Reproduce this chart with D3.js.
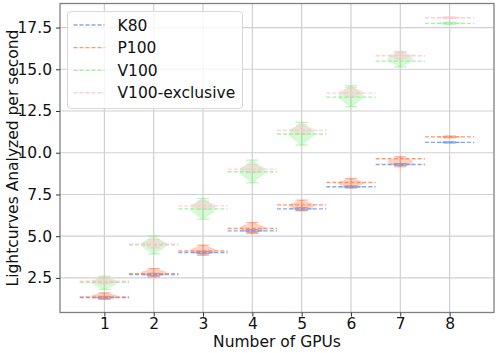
<!DOCTYPE html>
<meta charset="utf-8">

<!-- Load d3.js -->
<script src="https://d3js.org/d3.v7.min.js"></script>

<style>
body { margin: 0; background: white; }
text { font-family: "DejaVu Sans", sans-serif; fill: #111; }
</style>

<div id="my_dataviz"></div>

<script>

// values
var gpus = [1, 2, 3, 4, 5, 6, 7, 8];
var seriesNames = ["K80", "P100", "V100", "V100-exclusive"];

// dashed lines (average throughput)
var k80Mean  = [1.32, 2.70, 4.02, 5.32, 6.64, 7.96, 9.30, 10.62];
var p100Mean = [1.36, 2.76, 4.12, 5.46, 6.88, 8.22, 9.64, 10.95];
var v100Mean = [2.24, 4.48, 6.64, 8.86, 11.12, 13.33, 15.49, 17.75];
var exclMean = [2.30, 4.52, 6.82, 9.02, 11.34, 13.57, 15.81, 18.09];

// violin extents (min / max of each run)
var k80Lo  = [1.24, 2.62, 3.94, 5.24, 6.56, 7.90, 9.24, 10.58];
var k80Hi  = [1.40, 2.78, 4.10, 5.40, 6.72, 8.02, 9.36, 10.66];
var p100Lo = [1.24, 2.56, 3.86, 5.16, 6.52, 7.90, 9.16, 10.90];
var p100Hi = [1.60, 3.06, 4.46, 5.82, 7.16, 8.46, 9.76, 11.00];
var v100Lo = [1.82, 3.94, 6.02, 8.20, 10.46, 12.75, 15.15, 17.70];
var v100Hi = [2.60, 5.02, 7.26, 9.56, 11.82, 14.01, 16.05, 17.82];
var exclLo = [2.15, 4.30, 6.60, 8.80, 11.10, 13.35, 15.62, 18.04];
var exclHi = [2.50, 4.80, 7.10, 9.30, 11.65, 13.90, 16.02, 18.14];

var yTicks = [2.5, 5.0, 7.5, 10.0, 12.5, 15.0, 17.5];

var colors = ["#6495ed", "#ff7f50", "#90ee90", "#ffc0cb"];

var series = [
  {name: seriesNames[0], mean: k80Mean,  lo: k80Lo,  hi: k80Hi,  color: colors[0]},
  {name: seriesNames[1], mean: p100Mean, lo: p100Lo, hi: p100Hi, color: colors[1]},
  {name: seriesNames[2], mean: v100Mean, lo: v100Lo, hi: v100Hi, color: colors[2]},
  {name: seriesNames[3], mean: exclMean, lo: exclLo, hi: exclHi, color: colors[3]}
];

// dimensions
var W = 498, H = 353;
var margin = {top: 3.5, right: 4, bottom: 40.5, left: 60};

var svg = d3.select("#my_dataviz")
  .append("svg")
    .attr("width", W)
    .attr("height", H);

var x = d3.scaleLinear()
  .domain([0.1, 8.9])
  .range([margin.left, W - margin.right]);

var y = d3.scaleLinear()
  .domain([0.43, 18.94])
  .range([H - margin.bottom, margin.top]);

// grid
var grid = svg.append("g");
grid.selectAll("line.gx")
  .data(gpus)
  .enter().append("line")
    .attr("x1", d => x(d)).attr("x2", d => x(d))
    .attr("y1", margin.top).attr("y2", H - margin.bottom)
    .attr("stroke", "#d0d0d0").attr("stroke-width", 1.2);
grid.selectAll("line.gy")
  .data(yTicks)
  .enter().append("line")
    .attr("y1", d => y(d)).attr("y2", d => y(d))
    .attr("x1", margin.left).attr("x2", W - margin.right)
    .attr("stroke", "#d0d0d0").attr("stroke-width", 1.2);

// violins
var halfW = 0.25;
function violinPath(pos, lo, hi) {
  var mid = (lo + hi) / 2, sd = (hi - lo) / 4;
  var vals = d3.range(0, 41).map(i => lo + (hi - lo) * i / 40);
  var w = v => halfW * Math.exp(-0.5 * Math.pow((v - mid) / sd, 2));
  var right = vals.map(v => [x(pos + w(v)), y(v)]);
  var left = vals.slice().reverse().map(v => [x(pos - w(v)), y(v)]);
  return d3.line().curve(d3.curveBasis)(right.concat(left)) + "Z";
}

series.forEach(function(s) {
  var g = svg.append("g");
  gpus.forEach(function(n, i) {
    g.append("path")
      .attr("d", violinPath(n, s.lo[i], s.hi[i]))
      .attr("fill", s.color)
      .attr("fill-opacity", 0.35)
      .attr("stroke", s.color)
      .attr("stroke-opacity", 0.3)
      .attr("stroke-width", 0.8);
    // extrema bars
    [s.lo[i], s.hi[i]].forEach(function(v) {
      g.append("line")
        .attr("x1", x(n - 0.125)).attr("x2", x(n + 0.125))
        .attr("y1", y(v)).attr("y2", y(v))
        .attr("stroke", s.color).attr("stroke-opacity", 0.6).attr("stroke-width", 1.2);
    });
    g.append("line")
      .attr("x1", x(n)).attr("x2", x(n))
      .attr("y1", y(s.lo[i])).attr("y2", y(s.hi[i]))
      .attr("stroke", s.color).attr("stroke-opacity", 0.6).attr("stroke-width", 1.2);
  });
});

// dashed mean lines
series.forEach(function(s) {
  svg.append("g")
    .selectAll("line")
    .data(gpus)
    .enter().append("line")
      .attr("x1", d => x(d - 0.5))
      .attr("x2", d => x(d + 0.5))
      .attr("y1", (d, i) => y(s.mean[i]))
      .attr("y2", (d, i) => y(s.mean[i]))
      .attr("stroke", s.color)
      .attr("stroke-opacity", 0.8)
      .attr("stroke-width", 1.4)
      .attr("stroke-dasharray", "4,2");
});

// frame
svg.append("rect")
  .attr("x", margin.left).attr("y", margin.top)
  .attr("width", W - margin.right - margin.left)
  .attr("height", H - margin.bottom - margin.top)
  .attr("fill", "none").attr("stroke", "#808080").attr("stroke-width", 1.3);

// x axis
var xAxis = svg.append("g")
  .attr("transform", "translate(0," + (H - margin.bottom) + ")")
  .call(d3.axisBottom(x).tickValues(gpus).tickSize(4).tickPadding(1).tickFormat(d3.format("d")));
xAxis.select(".domain").remove();
xAxis.selectAll("text").style("font-size", "15.5px").attr("fill", "#111");
xAxis.selectAll("line").attr("stroke", "#333");

// y axis
var yAxis = svg.append("g")
  .attr("transform", "translate(" + margin.left + ",0)")
  .call(d3.axisLeft(y).tickValues(yTicks).tickSize(4).tickPadding(4).tickFormat(d3.format(".1f")));
yAxis.select(".domain").remove();
yAxis.selectAll("text").style("font-size", "15.5px").attr("fill", "#111");
yAxis.selectAll("line").attr("stroke", "#333");

// axis titles
svg.append("text")
  .attr("x", (margin.left + W - margin.right) / 2)
  .attr("y", 347)
  .attr("text-anchor", "middle")
  .style("font-size", "15.5px")
  .text("Number of GPUs");

svg.append("text")
  .attr("transform", "translate(18," + ((margin.top + H - margin.bottom) / 2) + ") rotate(-90)")
  .attr("text-anchor", "middle")
  .style("font-size", "15.5px")
  .text("Lightcurves Analyzed per second");

// legend
var legend = svg.append("g").attr("transform", "translate(67.5,11.5)");
legend.append("rect")
  .attr("width", 175).attr("height", 97)
  .attr("rx", 3.5)
  .attr("fill", "white").attr("fill-opacity", 0.8)
  .attr("stroke", "#d8d8d8").attr("stroke-width", 1);

series.forEach(function(s, i) {
  var ly = 13.5 + i * 22.6;
  legend.append("line")
    .attr("x1", 6).attr("x2", 37)
    .attr("y1", ly).attr("y2", ly)
    .attr("stroke", s.color)
    .attr("stroke-opacity", 0.8)
    .attr("stroke-width", 1.4)
    .attr("stroke-dasharray", "4,2");
  legend.append("text")
    .attr("x", 50).attr("y", ly)
    .attr("dy", "0.36em")
    .style("font-size", "15.5px")
    .text(s.name);
});

</script>
